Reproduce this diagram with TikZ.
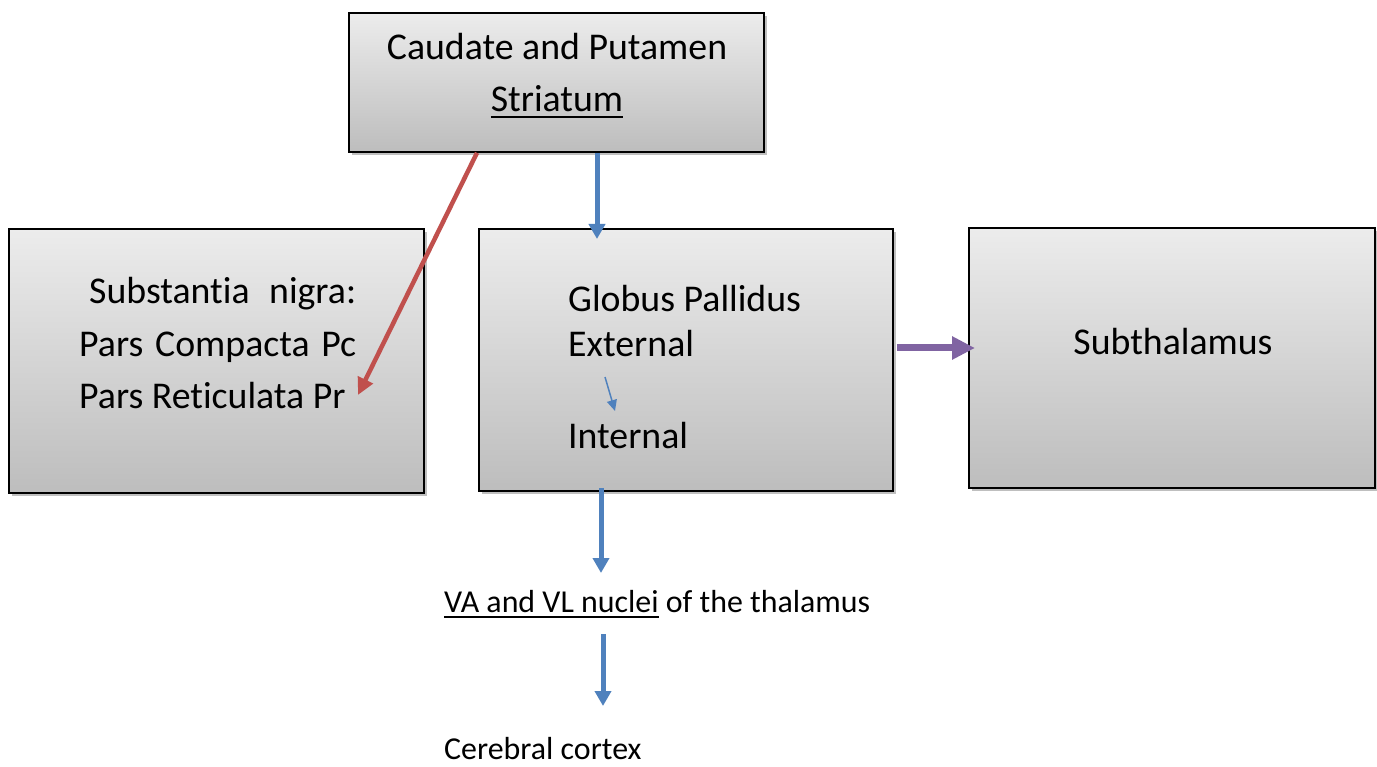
\documentclass[tikz,border=0pt]{standalone}
\usepackage{fontspec}
\setmainfont[Ligatures=NoCommon]{Carlito}
\usetikzlibrary{arrows.meta,shadows}
\definecolor{gtop}{RGB}{236,236,236}
\definecolor{gbot}{RGB}{189,189,189}
\definecolor{ablue}{RGB}{79,129,189}
\definecolor{ared}{RGB}{192,80,77}
\definecolor{apurple}{RGB}{128,100,162}
\newcommand\myul[1]{\setbox0\hbox{#1}\rlap{\rule[-6pt]{\wd0}{2pt}}\box0\relax}
\begin{document}
\begin{tikzpicture}[x=1pt,y=-1pt,
  box/.style={draw=black,line width=1.6pt,rectangle,inner sep=0,top color=gtop,bottom color=gbot,
    drop shadow={shadow xshift=3pt,shadow yshift=-3pt,opacity=0.25,fill=black}},
  bigtxt/.style={inner sep=0,font=\fontsize{37.8}{44}\selectfont},
  smalltxt/.style={inner sep=0,font=\fontsize{31.9}{36}\selectfont},
  bluearrow/.style={draw=ablue,line width=5pt,-{Triangle[length=15pt,width=16pt]}},
  redarrow/.style={draw=ared,line width=4.5pt,-{Triangle[length=17pt,width=16pt]}},
  purplearrow/.style={draw=apurple,line width=7pt,-{Triangle[length=23pt,width=22pt]}},
  thinarrow/.style={draw=ablue,line width=1.5pt,-{Triangle[length=11pt,width=10pt]}}]
\useasboundingbox (0,0) rectangle (1377,767);
\fill[white] (0,0) rectangle (1377,767);
% boxes
\node[box,minimum width=415pt,minimum height=139pt] (top) at (556.5,82.5) {};
\node[box,minimum width=415pt,minimum height=264pt] (left) at (216.5,361) {};
\node[box,minimum width=414pt,minimum height=262pt] (mid) at (686,360) {};
\node[box,minimum width=406pt,minimum height=260pt] (right) at (1172,358) {};
% texts
\node[bigtxt,anchor=base] (caud) at (557,60) {Caudate and Putamen};
\node[bigtxt,anchor=base] (str) at (557,112) {\myul{Striatum}};
\node[bigtxt,anchor=base west] (sn1) at (89,304) {\makebox[267pt][s]{Substantia nigra:}};
\node[bigtxt,anchor=base west] (sn2) at (79,357) {\makebox[277pt][s]{Pars Compacta Pc}};
\node[bigtxt,anchor=base west] (sn3) at (79,409) {Pars Reticulata Pr};
\node[bigtxt,anchor=base west] (gp) at (568,312) {Globus Pallidus};
\node[bigtxt,anchor=base west] (ext) at (568,357) {External};
\node[bigtxt,anchor=base west] (int) at (568,448) {Internal};
\node[bigtxt,anchor=base] (sub) at (1173,355) {Subthalamus};
\node[smalltxt,anchor=base west] (va) at (444,612) {\myul{VA and VL nuclei} of the thalamus};
\node[smalltxt,anchor=base west] (cc) at (444,759) {Cerebral cortex};
% arrow ends
\coordinate (redend) at (358,395);
\coordinate (midin) at (597,239);
\coordinate (vatip) at (601,573);
\coordinate (vabot) at (603,634);
\coordinate (cctip) at (603,706);
\coordinate (purpleend) at (975,348);
\coordinate (thinstart) at (605,377);
\coordinate (thinend) at (615,411);
% connectors
\draw[redarrow] (top.south -| 477,0) -- (redend);
\draw[bluearrow] (top.south -| midin) -- (midin);
\draw[bluearrow] ([yshift=4pt]mid.south -| vatip) -- (vatip);
\draw[bluearrow] (vabot) -- (cctip);
\draw[purplearrow] (mid.east |- purpleend) ++(3,0) -- (purpleend);
\draw[thinarrow] (thinstart) -- (thinend);
\end{tikzpicture}
\end{document}
